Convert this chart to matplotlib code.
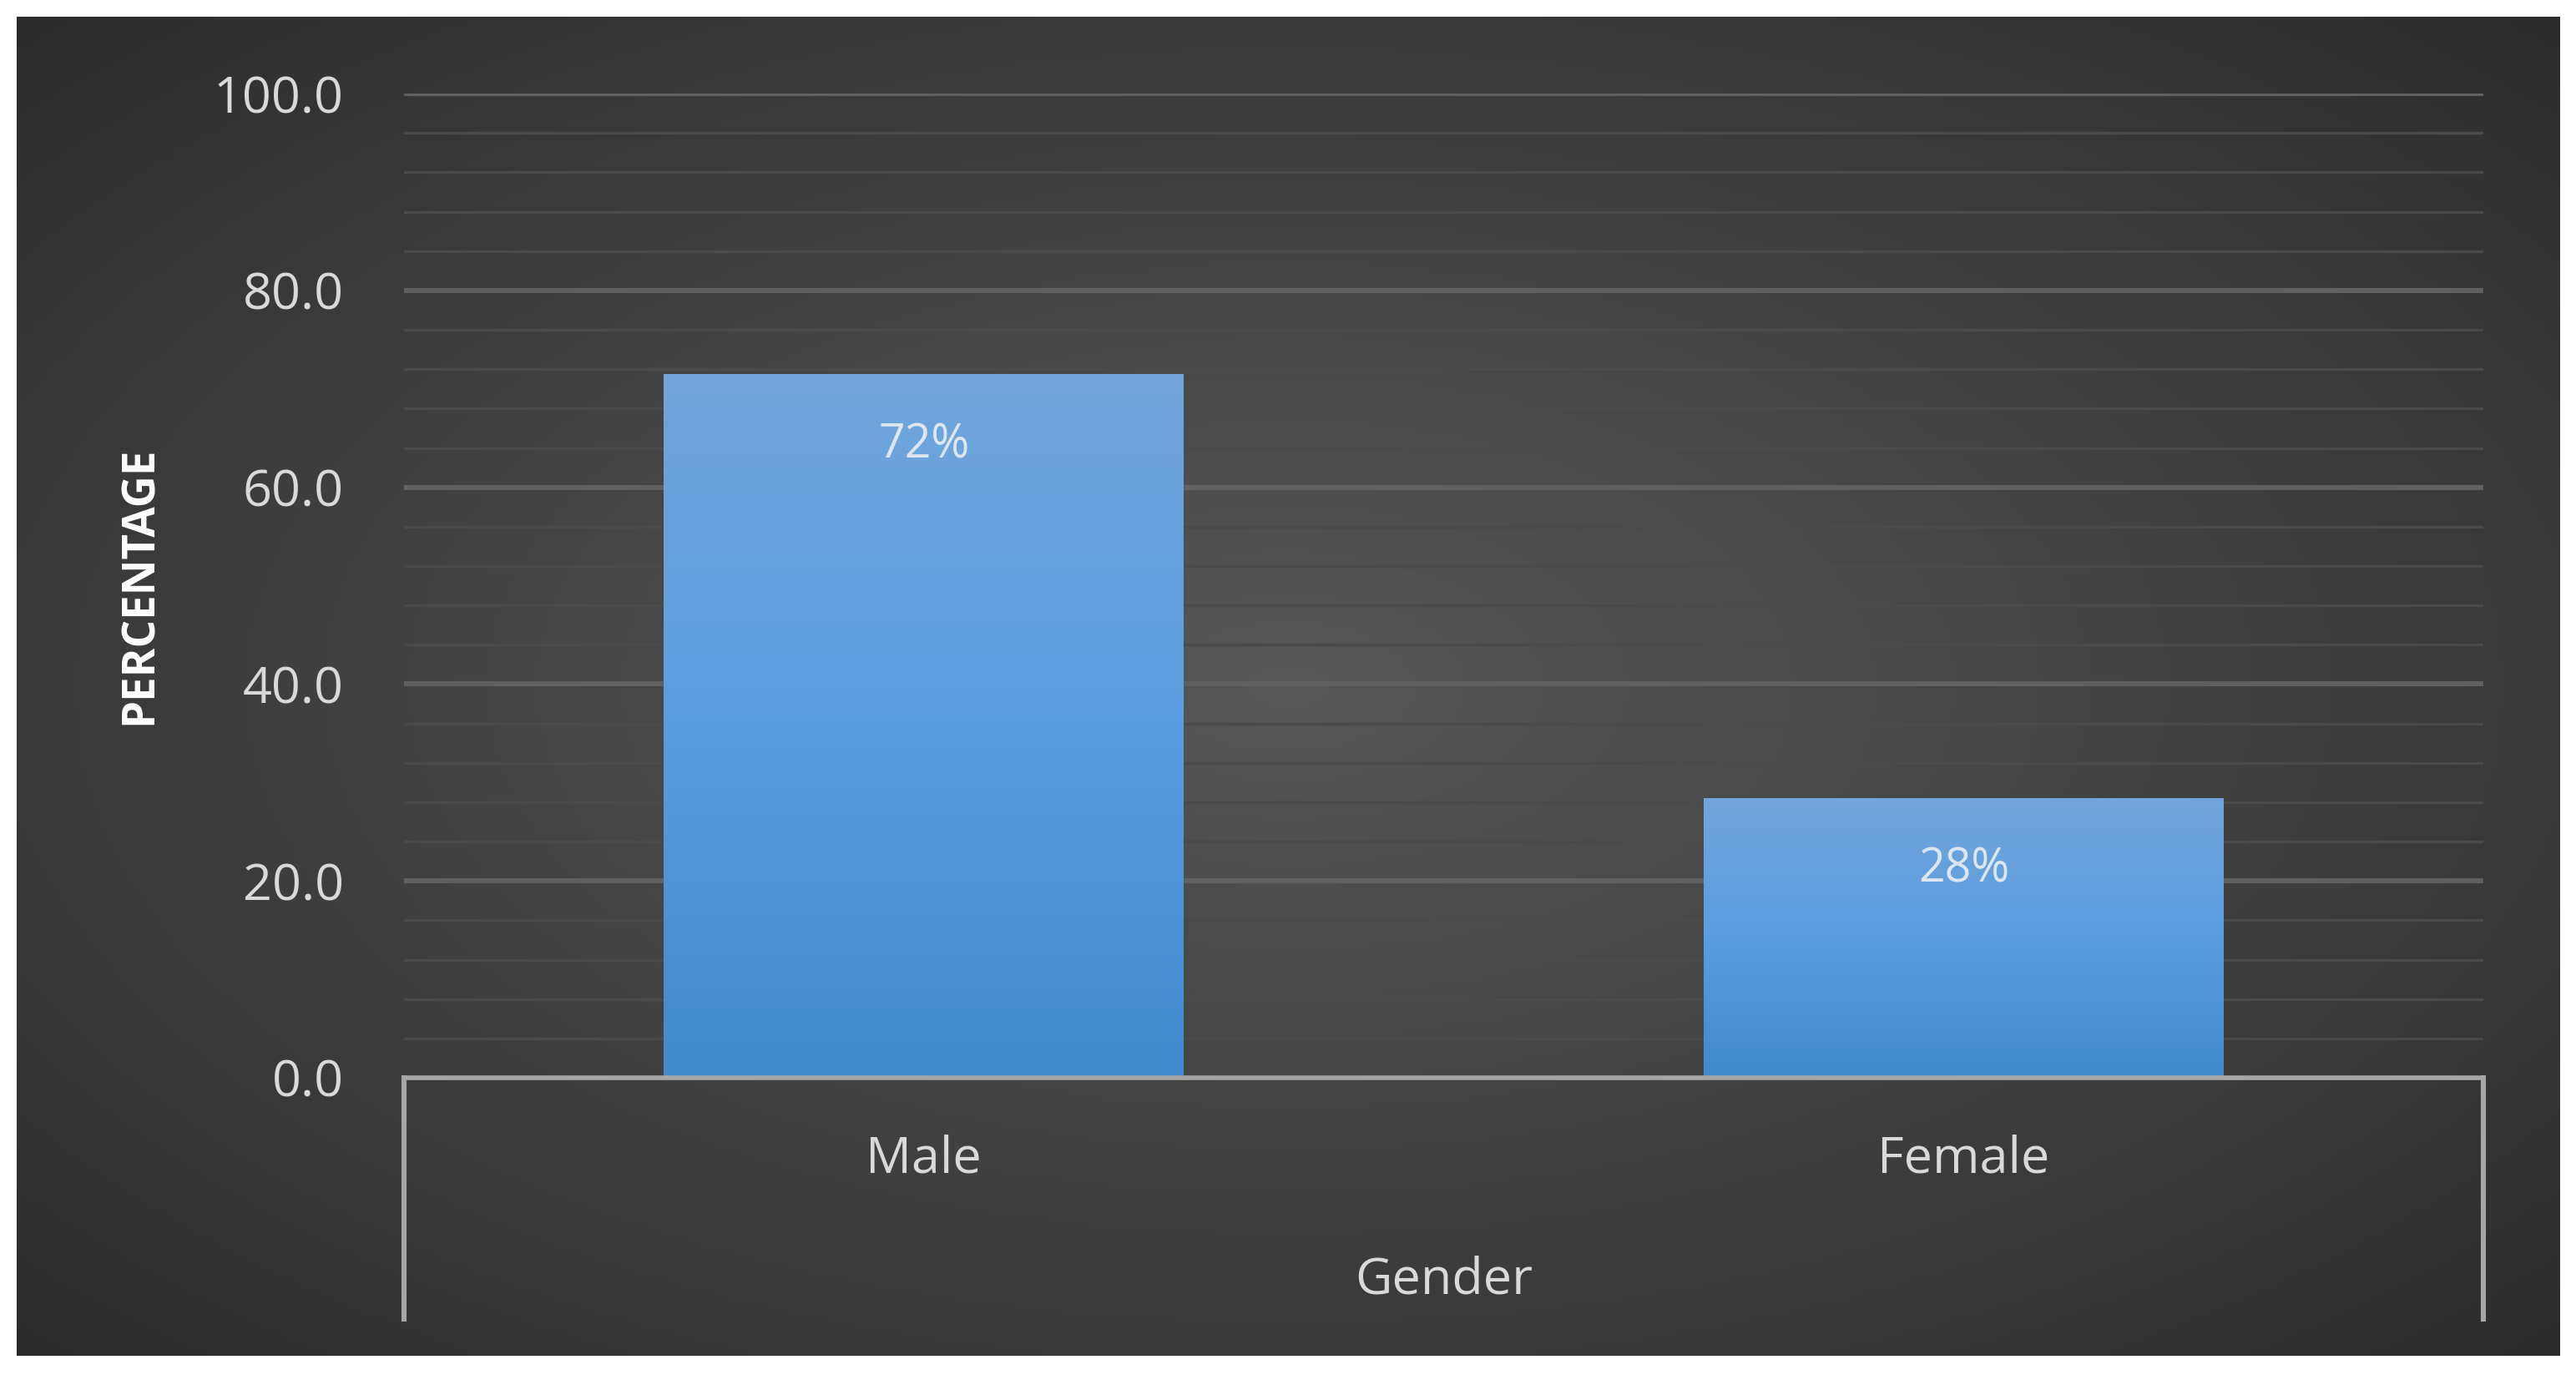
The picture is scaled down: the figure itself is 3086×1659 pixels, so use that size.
import numpy as np
import matplotlib
matplotlib.use("Agg")
import matplotlib.pyplot as plt
from matplotlib.colors import LinearSegmentedColormap

categories = ["Male", "Female"]
values = [71.5, 28.4]
labels = ["72%", "28%"]
xlabel = "Gender"
ylabel = "PERCENTAGE"

W, H = 1562, 843
fig = plt.figure(figsize=(15.43, 8.295), dpi=200)
fig.patch.set_facecolor("white")
plt.rcParams['font.family'] = ['Open Sans', 'DejaVu Sans']

bg = fig.add_axes([10/W, 1-825/H, 1542/W, 815/H])
yy, xx = np.mgrid[-1:1:300j, -1:1:600j]
r = np.sqrt(xx**2 + yy**2)
bgcm = LinearSegmentedColormap.from_list("bg", ["#575757", "#2b2b2b"])
bg.imshow(r, cmap=bgcm, aspect="auto", extent=[0, 1, 0, 1], vmin=0, vmax=1.45)
bg.set_axis_off()

ax = fig.add_axes([245/W, 1-656/H, 1261/W, 599/H])
ax.set_facecolor("none")
for v in np.arange(4, 100, 4):
    if v % 20:
        ax.axhline(v, color="#4a4a4a", lw=1.2, zorder=0)
for v in range(20, 101, 20):
    ax.axhline(v, color="#606060", lw=2.2, zorder=0)

x = np.arange(len(categories))
bars = ax.bar(x, values, width=0.5, color="none", zorder=2)
barcm = LinearSegmentedColormap.from_list("bar", ["#4289cd", "#5a9ddf", "#72a6dc"])
grad = np.linspace(0, 1, 256).reshape(-1, 1)
for b, lab in zip(bars, labels):
    x0, w, h = b.get_x(), b.get_width(), b.get_height()
    im = ax.imshow(grad, cmap=barcm, aspect="auto", origin="lower",
                   extent=[x0, x0 + w, 0, h], zorder=2)
    im.set_clip_path(b)
    ax.text(x0 + w/2, h - 7.3, lab, ha="center", va="center",
            color="#dde6f0", fontsize=20, zorder=3)
ax.set_xlim(-0.5, 1.5)
ax.set_ylim(0, 100)

for s in ["top", "right", "left"]:
    ax.spines[s].set_visible(False)
ax.spines["bottom"].set_color("#a6a6a6")
ax.spines["bottom"].set_linewidth(2)
ax.set_yticks(range(0, 101, 20))
ax.set_yticklabels([f"{v:.1f}" for v in range(0, 101, 20)])
ax.tick_params(axis="y", length=0, colors="#d9d9d9", labelsize=22, pad=26)
ax.set_xticks([])
ax.set_ylabel(ylabel, color="white", fontsize=19, fontweight="bold", labelpad=22)

for xi, c in zip(x, categories):
    ax.text(xi, -8.3, c, ha="center", va="center", color="#d9d9d9",
            fontsize=22, clip_on=False)
ax.text(0.5, -20.6, xlabel, ha="center", va="center", color="#d9d9d9",
        fontsize=22, clip_on=False)
for xv in (-0.5, 1.5):
    ax.plot([xv, xv], [0, -24.5], color="#a6a6a6", lw=2.2, clip_on=False)

fig.savefig("out.png", dpi=200, facecolor="white")
